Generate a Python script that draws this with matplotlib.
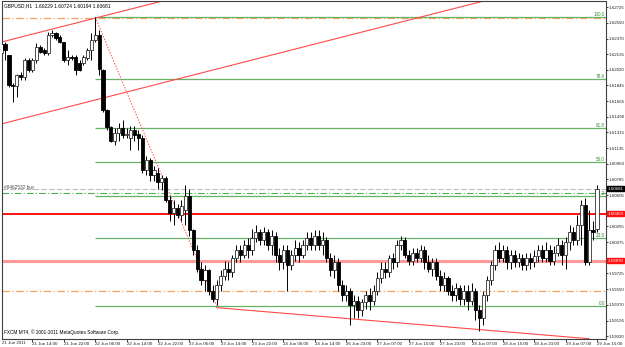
import matplotlib
matplotlib.use('Agg')

import numpy as np
import matplotlib.pyplot as plt
import matplotlib.transforms as mtransforms

# -------------------------
# Data: GBPUSD H1 bars, 21 Jun 06:00 -> 29 Jun 15:00
# -------------------------
opens = [1.6221, 1.6231, 1.6218, 1.6185, 1.6184, 1.6196, 1.6194, 1.6213, 1.6202, 1.6213,
         1.6227, 1.6224, 1.6221, 1.6241, 1.6243, 1.6239, 1.6233, 1.6213, 1.6216, 1.6216,
         1.6209, 1.6209, 1.6215, 1.6224, 1.6235, 1.6241, 1.6202, 1.6156, 1.6137, 1.6122,
         1.6131, 1.6136, 1.6128, 1.6125, 1.6134, 1.6130, 1.6125, 1.6089, 1.6100, 1.6083,
         1.6086, 1.6075, 1.6080, 1.6055, 1.6041, 1.6046, 1.6038, 1.6044, 1.6060, 1.6021,
         1.5999, 1.5978, 1.5965, 1.5976, 1.5953, 1.5944, 1.5959, 1.5970, 1.5978, 1.5974,
         1.5990, 1.5999, 1.5993, 1.6004, 1.5999, 1.6012, 1.6019, 1.6010, 1.6019, 1.6004,
         1.6015, 1.5993, 1.5985, 1.5999, 1.5982, 1.5993, 1.6001, 1.5993, 1.6004, 1.6012,
         1.6004, 1.6015, 1.6004, 1.6010, 1.5990, 1.5976, 1.5985, 1.5959, 1.5948, 1.5953,
         1.5937, 1.5942, 1.5931, 1.5940, 1.5948, 1.5942, 1.5953, 1.5967, 1.5978, 1.5974,
         1.5990, 1.5985, 1.6004, 1.6010, 1.5993, 1.5987, 1.5996, 1.5990, 1.5999, 1.5985,
         1.5978, 1.5985, 1.5970, 1.5959, 1.5967, 1.5953, 1.5948, 1.5956, 1.5944, 1.5953,
         1.5942, 1.5953, 1.5931, 1.5922, 1.5948, 1.5965, 1.5982, 1.5999, 1.5990, 1.5999,
         1.5985, 1.5993, 1.5985, 1.5990, 1.5982, 1.5990, 1.5985, 1.5992, 1.5999, 1.5990,
         1.5999, 1.5987, 1.5996, 1.6004, 1.5993, 1.6008, 1.6019, 1.6010, 1.6027, 1.6050,
         1.5985, 1.6021, 1.60229]
highs = [1.6242, 1.6233, 1.6218, 1.6187, 1.6197, 1.6199, 1.6215, 1.6215, 1.6215, 1.6232,
         1.6230, 1.6226, 1.6244, 1.6247, 1.6244, 1.6241, 1.6233, 1.6224, 1.6218, 1.6218,
         1.6213, 1.6218, 1.6226, 1.6243, 1.6261, 1.6247, 1.6203, 1.6158, 1.6139, 1.6136,
         1.6142, 1.6145, 1.6136, 1.6139, 1.6139, 1.6134, 1.6128, 1.6105, 1.6102, 1.6094,
         1.6091, 1.6083, 1.6082, 1.6060, 1.6055, 1.6051, 1.6055, 1.6072, 1.6068, 1.6023,
         1.6004, 1.5985, 1.5982, 1.5978, 1.5959, 1.5965, 1.5976, 1.5987, 1.5985, 1.5993,
         1.6004, 1.6004, 1.6010, 1.6012, 1.6023, 1.6027, 1.6023, 1.6025, 1.6023, 1.6021,
         1.6019, 1.6001, 1.6004, 1.6004, 1.5999, 1.6010, 1.6008, 1.6010, 1.6019, 1.6019,
         1.6021, 1.6021, 1.6019, 1.6014, 1.5996, 1.5993, 1.5990, 1.5965, 1.5959, 1.5956,
         1.5948, 1.5947, 1.5944, 1.5953, 1.5956, 1.5959, 1.5974, 1.5985, 1.5985, 1.5993,
         1.5996, 1.6010, 1.6015, 1.6014, 1.5999, 1.6001, 1.6001, 1.6004, 1.6003, 1.5993,
         1.5990, 1.5990, 1.5976, 1.5974, 1.5970, 1.5959, 1.5962, 1.5959, 1.5959, 1.5959,
         1.5962, 1.5956, 1.5937, 1.5953, 1.5970, 1.5987, 1.6004, 1.6008, 1.6004, 1.6003,
         1.5999, 1.5999, 1.5996, 1.5994, 1.5996, 1.5996, 1.5999, 1.6004, 1.6004, 1.6008,
         1.6004, 1.6003, 1.6012, 1.6010, 1.6014, 1.6027, 1.6025, 1.6038, 1.6055, 1.6058,
         1.6044, 1.6032, 1.60724]
lows = [1.6218, 1.6213, 1.6182, 1.6166, 1.6171, 1.6190, 1.6190, 1.6199, 1.6199, 1.6209,
        1.6221, 1.6218, 1.6218, 1.6239, 1.6235, 1.6232, 1.6211, 1.6207, 1.6213, 1.6196,
        1.6200, 1.6207, 1.6213, 1.6213, 1.6233, 1.6196, 1.6154, 1.6134, 1.6120, 1.6117,
        1.6122, 1.6125, 1.6125, 1.6111, 1.6122, 1.6111, 1.6086, 1.6083, 1.6077, 1.6077,
        1.6068, 1.6066, 1.6053, 1.6032, 1.6027, 1.6035, 1.6032, 1.6027, 1.6015, 1.5993,
        1.5974, 1.5959, 1.5953, 1.5948, 1.5940, 1.5937, 1.5953, 1.5965, 1.5965, 1.5969,
        1.5985, 1.5985, 1.5990, 1.5990, 1.5993, 1.6008, 1.6004, 1.6004, 1.5999, 1.5993,
        1.5985, 1.5976, 1.5978, 1.5953, 1.5976, 1.5987, 1.5985, 1.5990, 1.5999, 1.5999,
        1.5999, 1.5999, 1.5993, 1.5985, 1.5970, 1.5967, 1.5953, 1.5942, 1.5942, 1.5914,
        1.5922, 1.5922, 1.5925, 1.5933, 1.5931, 1.5937, 1.5948, 1.5962, 1.5967, 1.5969,
        1.5978, 1.5980, 1.5999, 1.5990, 1.5982, 1.5982, 1.5985, 1.5985, 1.5978, 1.5974,
        1.5970, 1.5965, 1.5953, 1.5953, 1.5948, 1.5942, 1.5942, 1.5937, 1.5937, 1.5931,
        1.5937, 1.5920, 1.5908, 1.5914, 1.5942, 1.5959, 1.5976, 1.5985, 1.5985, 1.5978,
        1.5978, 1.5980, 1.5980, 1.5976, 1.5976, 1.5978, 1.5980, 1.5985, 1.5985, 1.5985,
        1.5982, 1.5982, 1.5992, 1.5982, 1.5978, 1.5999, 1.6004, 1.6004, 1.6004, 1.5982,
        1.5982, 1.6010, 1.60194]
closes = [1.6231, 1.6224, 1.6185, 1.6184, 1.6196, 1.6194, 1.6213, 1.6202, 1.6213, 1.6227,
          1.6222, 1.6221, 1.6241, 1.6243, 1.6238, 1.6233, 1.6213, 1.6216, 1.6215, 1.6202,
          1.6202, 1.6216, 1.6224, 1.6235, 1.6241, 1.6203, 1.6156, 1.6137, 1.6122, 1.6131,
          1.6136, 1.6128, 1.6130, 1.6134, 1.6128, 1.6125, 1.6089, 1.6100, 1.6083, 1.6089,
          1.6075, 1.6080, 1.6055, 1.6041, 1.6046, 1.6038, 1.6049, 1.6060, 1.6021, 1.5999,
          1.5978, 1.5965, 1.5976, 1.5953, 1.5944, 1.5959, 1.5970, 1.5978, 1.5974, 1.5990,
          1.5999, 1.5993, 1.6004, 1.5999, 1.6012, 1.6019, 1.6010, 1.6019, 1.6004, 1.6015,
          1.5993, 1.5985, 1.5999, 1.5982, 1.5993, 1.6001, 1.5993, 1.6004, 1.6012, 1.6004,
          1.6015, 1.6004, 1.6010, 1.5990, 1.5976, 1.5985, 1.5959, 1.5948, 1.5953, 1.5937,
          1.5942, 1.5931, 1.5940, 1.5948, 1.5942, 1.5953, 1.5967, 1.5978, 1.5974, 1.5990,
          1.5985, 1.6004, 1.6010, 1.5993, 1.5987, 1.5996, 1.5990, 1.5999, 1.5985, 1.5978,
          1.5985, 1.5970, 1.5959, 1.5967, 1.5953, 1.5948, 1.5956, 1.5944, 1.5953, 1.5942,
          1.5953, 1.5931, 1.5922, 1.5948, 1.5965, 1.5982, 1.5999, 1.5990, 1.5999, 1.5985,
          1.5993, 1.5985, 1.5990, 1.5982, 1.5990, 1.5985, 1.5992, 1.5999, 1.5990, 1.5999,
          1.5987, 1.5996, 1.6004, 1.5993, 1.6008, 1.6019, 1.6010, 1.6027, 1.6050, 1.5985,
          1.6021, 1.6019, 1.60681]

# time axis labels, one every 8 bars starting at bar 8
time_labels = ['21 Jun 14:00', '21 Jun 22:00', '22 Jun 06:00', '22 Jun 14:00',
               '22 Jun 22:00', '23 Jun 06:00', '23 Jun 14:00', '23 Jun 22:00',
               '24 Jun 06:00', '24 Jun 14:00', '26 Jun 23:00', '27 Jun 07:00',
               '27 Jun 15:00', '27 Jun 23:00', '28 Jun 07:00', '28 Jun 15:00',
               '28 Jun 23:00', '29 Jun 07:00', '29 Jun 15:00']
first_label = '21 Jun 2011'

# price scale labels (the two hidden under the line tags are left out)
price_ticks = [1.62725, 1.62550, 1.62370, 1.62195, 1.62020, 1.61845, 1.61665,
               1.61490, 1.61315, 1.61135, 1.60960, 1.60785, 1.60605,
               1.60255, 1.60075, 1.59725, 1.59550, 1.59370, 1.59195,
               1.59020]

# Fibonacci retracement (bar index, price)
fib_hi = (24, 1.6261)
fib_lo = (55, 1.5936)
fib_levels = [0.0, 23.6, 38.2, 50.0, 61.8, 78.6, 100.0]

# channel lines (two anchors each, bar index / price)
chan_upper = [(0, 1.6233), (24, 1.6260)]
chan_offset = -0.00922
bottom_line = [(55, 1.5934), (150, 1.5899)]

# horizontal objects
orange_levels = [1.6260, 1.5953]
red_level = 1.6040
pink_level = 1.5987
bid_level = 1.60681
order_level = 1.6063
order_text = '#8462532 buy'

title = 'GBPUSD,H1  1.60229 1.60724 1.60194 1.60681'
copyright_text = 'FXCM MT4, \u00a9 2001-2011 MetaQuotes Software Corp.'

# -------------------------
# Figure
# -------------------------
plt.rcParams['font.family'] = ['Liberation Sans', 'DejaVu Sans']

W, H = 625, 347
fig = plt.figure(figsize=(W / 100, H / 100), dpi=100)
ax = fig.add_axes([2 / W, 8 / H, 604 / W, 338 / H])
ax.set_xlim(0.23, 154.3)
ax.set_ylim(1.58987, 1.62793)

n = len(opens)
x = np.arange(n)
o = np.array(opens); hi = np.array(highs); lo = np.array(lows); c = np.array(closes)
up = c >= o

fib_green = '#66b266'
bt = mtransforms.blended_transform_factory(ax.transAxes, ax.transData)

# horizontal objects drawn first (behind candles)
for lev in orange_levels:
    ax.axhline(lev, color='#f4a460', lw=0.9, ls=(0, (6, 2, 1, 2)), zorder=1)
ax.axhline(pink_level, color='#ff9a9a', lw=2.2, zorder=1)
ax.axhline(red_level, color='#ff0000', lw=1.3, zorder=1)
ax.axhline(bid_level, color='#c0c0c0', lw=0.8, ls=(0, (5, 2)), zorder=1)
ax.axhline(order_level, color='#4caf50', lw=0.8, ls=(0, (6, 2, 1, 2)), zorder=1)

# fibonacci levels
rng = fib_hi[1] - fib_lo[1]
for lev in fib_levels:
    p = fib_lo[1] + rng * lev / 100.0
    ax.hlines(p, fib_hi[0], 200, color=fib_green, lw=0.9, zorder=1)
    ax.text(0.998, p, f'{lev:.1f}', transform=bt,
            ha='right', va='bottom', fontsize=3.3, color='#3c8c3c')
ax.plot([fib_hi[0], fib_lo[0]], [fib_hi[1], fib_lo[1]], color='#ff5050', lw=0.7,
        ls=(0, (1.5, 1.5)), zorder=1)

# channel
xs = np.array([-10, 260])
(xa, ya), (xb, yb) = chan_upper
slope = (yb - ya) / (xb - xa)
ax.plot(xs, ya + slope * (xs - xa), color='#ff4a4a', lw=0.8, zorder=1)
ax.plot(xs, ya + chan_offset + slope * (xs - xa), color='#ff4a4a', lw=0.8, zorder=1)
(xa, ya), (xb, yb) = bottom_line
ax.plot([xa, xb], [ya, yb], color='#ff4a4a', lw=0.8, zorder=1)

# candles
ax.vlines(x, lo, hi, color='black', lw=0.7, zorder=3)
body_h = np.where(np.abs(c - o) < 0.00003, 0.00003, c - o)
ax.bar(x[up], body_h[up], bottom=o[up], width=0.8, facecolor='white',
       edgecolor='#303030', lw=0.6, zorder=4)
ax.bar(x[~up], body_h[~up], bottom=o[~up], width=0.8, facecolor='black',
       edgecolor='black', lw=0.6, zorder=4)

# axes styling
for s in ax.spines.values():
    s.set_color('#404040')
    s.set_linewidth(0.8)
ax.yaxis.tick_right()
ax.set_yticks(price_ticks)
ax.set_yticklabels([f'{p:.5f}' for p in price_ticks])
ax.tick_params(axis='y', direction='out', length=1.5, width=0.6, pad=0.4,
               labelsize=3.2, colors='#202020')
tick_pos = [8 + 8 * k for k in range(len(time_labels))]
ax.set_xticks(tick_pos)
ax.set_xticklabels(time_labels)
ax.tick_params(axis='x', direction='out', length=2.0, width=0.6, pad=0.5,
               labelsize=3.2, colors='#202020')
for t in ax.get_xticklabels():
    t.set_horizontalalignment('left')
ax.text(0.0, -0.006, first_label, transform=ax.transAxes, ha='left', va='top',
        fontsize=3.2, color='#202020')

# price tags on the scale
for val, fc in [(bid_level, 'black'), (red_level, '#ff1010'), (pink_level, '#ff1010')]:
    ax.text(1.003, val, f'{val:.5f}', transform=bt, ha='left', va='center',
            fontsize=3.2, color='white', clip_on=False, zorder=6,
            bbox=dict(boxstyle='square,pad=0.12', fc=fc, ec=fc))

# texts
ax.text(0.003, 0.992, title, transform=ax.transAxes, ha='left', va='top',
        fontsize=3.5, color='black')
ax.text(0.003, 0.012, copyright_text, transform=ax.transAxes, ha='left', va='bottom',
        fontsize=3.4, color='black')
ax.text(0.003, order_level + 0.0003, order_text, transform=bt, ha='left', va='bottom',
        fontsize=3.4, color='#505050')

fig.savefig('out.png', dpi=100)
